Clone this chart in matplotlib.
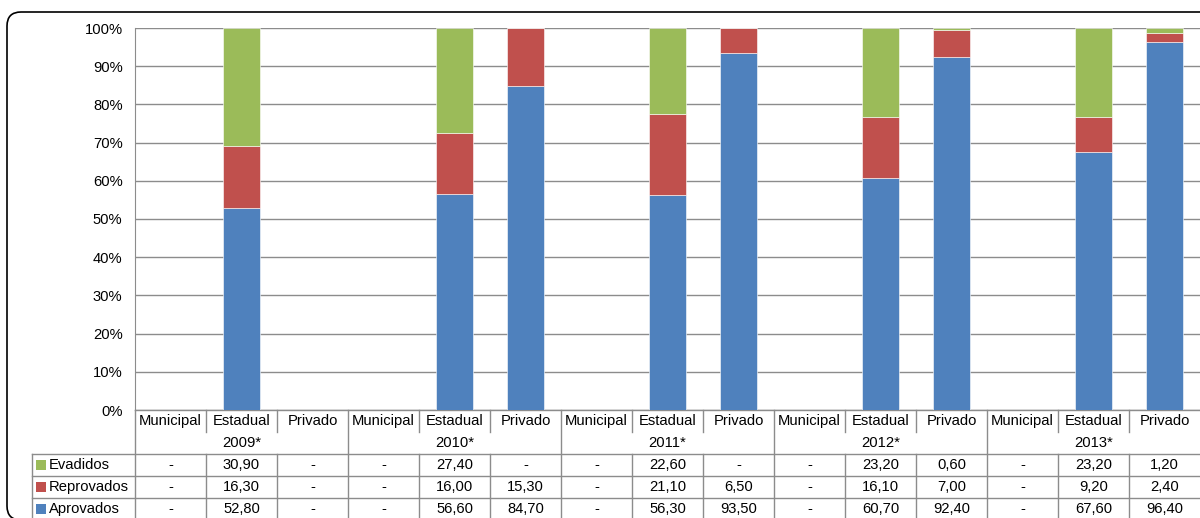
import numpy as np
import matplotlib
matplotlib.use("Agg")
import matplotlib.pyplot as plt
from matplotlib.patches import FancyBboxPatch, Rectangle
from matplotlib.transforms import IdentityTransform, blended_transform_factory

plt.rcParams["font.family"] = ["Liberation Sans", "DejaVu Sans"]

years = ["2009*", "2010*", "2011*", "2012*", "2013*"]
networks = ["Municipal", "Estadual", "Privado"]
nan = np.nan
aprovados = [nan, 52.8, nan, nan, 56.6, 84.7, nan, 56.3, 93.5, nan, 60.7, 92.4, nan, 67.6, 96.4]
reprovados = [nan, 16.3, nan, nan, 16.0, 15.3, nan, 21.1, 6.5, nan, 16.1, 7.0, nan, 9.2, 2.4]
evadidos = [nan, 30.9, nan, nan, 27.4, nan, nan, 22.6, nan, nan, 23.2, 0.6, nan, 23.2, 1.2]

series = [("Evadidos", evadidos, "#9BBB59"),
          ("Reprovados", reprovados, "#C0504D"),
          ("Aprovados", aprovados, "#4F81BD")]

W, H = 1200, 518
fig = plt.figure(figsize=(W / 100, H / 100), dpi=100)
ax_l, ax_r, ax_t, ax_b = 135, 1200, 28, 410
ax = fig.add_axes([ax_l / W, 1 - ax_b / H, (ax_r - ax_l) / W, (ax_b - ax_t) / H])

# rounded chart frame
fig.add_artist(FancyBboxPatch((7, -2), 1400, H - 12 + 2,
                              boxstyle="round,pad=0,rounding_size=14",
                              transform=IdentityTransform(), fill=False,
                              edgecolor="black", linewidth=1.2))

n = len(years) * len(networks)
x = np.arange(n) + 0.5
apr = np.nan_to_num(aprovados)
rep = np.nan_to_num(reprovados)
eva = np.nan_to_num(evadidos)
tot = apr + rep + eva
tot[tot == 0] = 1
bottom = np.zeros(n)
for vals, col in [(apr, "#4F81BD"), (rep, "#C0504D"), (eva, "#9BBB59")]:
    h = vals / tot
    ax.bar(x, h, width=0.52, bottom=bottom, color=col, edgecolor="white",
           linewidth=0.4, zorder=3)
    bottom += h

ax.set_xlim(0, n)
ax.set_ylim(0, 1)
ax.set_yticks(np.arange(0, 1.01, 0.1))
ax.set_yticklabels([f"{int(round(v * 100))}%" for v in np.arange(0, 1.01, 0.1)])
ax.tick_params(axis="y", length=0, pad=9, labelsize=10.6)
ax.set_xticks([])
ax.grid(axis="y", color="#8C8C8C", linewidth=1, zorder=0)
for s in ["top", "right", "bottom"]:
    ax.spines[s].set_visible(False)
ax.spines["left"].set_color("#8C8C8C")

# data table below the plot
tr = blended_transform_factory(ax.transData, ax.transAxes)
def ay(p):
    return (ax_b - p) / (ax_b - ax_t)
def axx(p):
    return (p - ax_l) / (ax_r - ax_l)

lc = "#8C8C8C"
kw = dict(color=lc, linewidth=1, clip_on=False)
fs = 10.6
# horizontal lines
ax.plot([0, n], [ay(410), ay(410)], transform=tr, **kw)
for yp in [454, 476, 498, 519]:
    ax.plot([axx(32), 1.0], [ay(yp), ay(yp)], transform=ax.transAxes, **kw)
ax.plot([axx(32), axx(32)], [ay(454), ay(520)], transform=ax.transAxes, **kw)
# vertical lines
for i in range(1, n):
    if i % 3 == 0:
        ax.plot([i, i], [ay(410), ay(520)], transform=tr, **kw)
    else:
        ax.plot([i, i], [ay(410), ay(432)], transform=tr, **kw)
        ax.plot([i, i], [ay(454), ay(520)], transform=tr, **kw)
ax.plot([0, 0], [ay(410), ay(520)], transform=tr, **kw)

for i in range(n):
    ax.text(x[i], ay(421), networks[i % 3], transform=tr, ha="center",
            va="center", fontsize=fs, clip_on=False)
for j, yr in enumerate(years):
    ax.text(3 * j + 1.5, ay(443), yr, transform=tr, ha="center",
            va="center", fontsize=fs, clip_on=False)

row_y = [465, 487, 509]
for (name, vals, col), yp in zip(series, row_y):
    ax.add_patch(Rectangle((axx(36), ay(yp + 5)), axx(46) - axx(36),
                           ay(yp - 5) - ay(yp + 5), transform=ax.transAxes,
                           facecolor=col, edgecolor="none", clip_on=False))
    ax.text(axx(49), ay(yp), name, transform=ax.transAxes, ha="left",
            va="center", fontsize=fs, clip_on=False)
    for i, v in enumerate(vals):
        s = "-" if np.isnan(v) else f"{v:.2f}".replace(".", ",")
        ax.text(x[i], ay(yp), s, transform=tr, ha="center", va="center",
                fontsize=fs, clip_on=False)

fig.savefig("out.png", dpi=100)
